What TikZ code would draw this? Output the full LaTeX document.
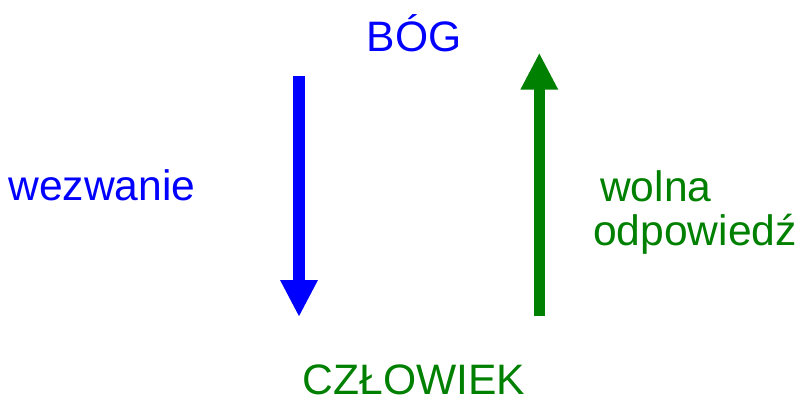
\documentclass[tikz,border=0pt]{standalone}
\usepackage{fontspec}
\setmainfont{Liberation Sans}
\usetikzlibrary{arrows.meta}
\definecolor{bblue}{RGB}{0,0,255}
\definecolor{ggreen}{RGB}{0,128,0}
\begin{document}
\begin{tikzpicture}[x=1bp,y=-1bp,
  lbl/.style={inner sep=0pt,font=\fontsize{42.6bp}{43bp}\selectfont},
  bigarrow/.style={line width=11.6bp,-{Triangle[length=37bp,width=35bp]}}]
\useasboundingbox (0,0) rectangle (800,398);
\node[lbl,text=bblue,anchor=base] (bog) at (414,51.7) {BÓG};
\node[lbl,text=ggreen,anchor=base] (czl) at (414,394.5) {CZŁOWIEK};
\node[lbl,text=bblue,anchor=base] (wez) at (102,200.7) {wezwanie};
\node[lbl,text=ggreen,anchor=base west] (woln) at (600,201.7) {wolna};
\node[lbl,text=ggreen,anchor=base west] (odp) at (593,245) {odpowiedź};
\coordinate (b1) at (299,76);
\coordinate (b2) at (299,317);
\coordinate (g1) at (539.3,316);
\coordinate (g2) at (539.3,52.7);
\draw[bigarrow,draw=bblue,fill=bblue] (b1) -- (b2);
\draw[bigarrow,draw=ggreen,fill=ggreen] (g1) -- (g2);
\end{tikzpicture}
\end{document}
